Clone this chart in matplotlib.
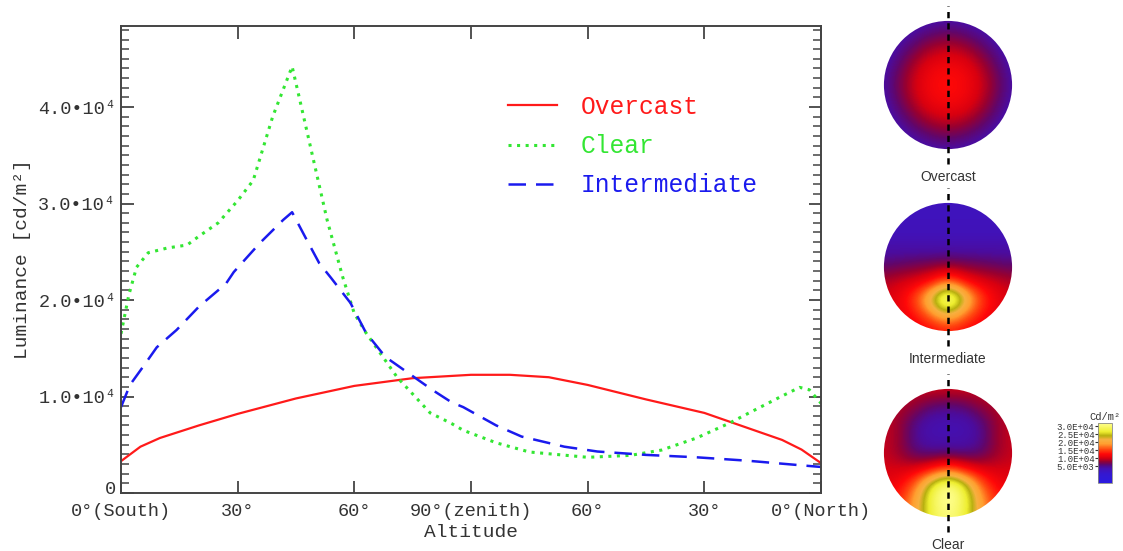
import numpy as np
import matplotlib
matplotlib.use('Agg')
import matplotlib.pyplot as plt
from matplotlib.colors import LinearSegmentedColormap, Normalize
from matplotlib.patches import Circle
from matplotlib.ticker import MultipleLocator
from matplotlib.transforms import ScaledTranslation
import matplotlib.cm as cm

# monospace font like the original plot program
plt.rcParams['font.family'] = ['Liberation Mono', 'DejaVu Sans Mono']

# meridian luminance, x: 0 = south horizon, 90 = zenith, 180 = north horizon
overcast_x = [0, 5, 10, 20, 30, 45, 60, 75, 90, 100, 110, 120, 135, 150, 160, 170, 175, 180]
overcast_y = [3300, 4800, 5700, 7000, 8200, 9800, 11100, 11900, 12250, 12250, 12000,
              11200, 9700, 8300, 6900, 5500, 4500, 3100]

clear_x = [0, 2, 4, 7, 12, 17, 20, 25, 30, 34, 39, 44, 46, 49.5, 53, 57, 60, 63, 71,
           79.5, 85, 88, 96.5, 105, 120, 131, 139, 148, 156.5, 161.5, 169.5, 174.5, 177, 180]
clear_y = [16500, 20500, 23400, 24900, 25400, 25700, 26600, 28000, 30300, 32400, 39000,
           44200, 40700, 34500, 28300, 22400, 18600, 16600, 12000, 8300, 7200, 6500, 5200,
           4250, 3700, 3900, 4450, 5700, 7250, 8300, 9950, 10950, 10700, 9300]

inter_x = [0, 2.3, 5.7, 9.2, 14.3, 20, 27, 29, 35.7, 41.7, 44, 47.8, 51, 54, 59, 63, 68,
           74, 80, 85, 88, 96.5, 103, 114, 122.5, 135, 148, 161, 174, 180]
inter_y = [8900, 11200, 13100, 15100, 16900, 19300, 21700, 22900, 25900, 28300, 29100,
           26200, 23800, 22300, 19700, 16600, 14100, 12400, 10700, 9400, 8900, 7000, 5850,
           4800, 4300, 3950, 3700, 3350, 2900, 2700]

tick_pos = [0, 30, 60, 90, 120, 150, 180]
tick_labels = ['0°(South)', '30°', '60°', '90°(zenith)', '60°', '30°', '0°(North)']
y_ticks = [0, 10000, 20000, 30000, 40000]
y_labels = ['0', '1.0•10⁴', '2.0•10⁴', '3.0•10⁴', '4.0•10⁴']

# sky maps seen from above (north up, south down), coarse grid in kcd/m2
overcast_map = [
    [2.5, 3.0, 3.5, 4.0, 3.5, 3.0, 2.5],
    [3.0, 4.5, 7.0, 8.5, 7.0, 4.5, 3.0],
    [3.5, 7.0, 11.0, 12.0, 11.0, 7.0, 3.5],
    [4.0, 8.5, 12.0, 13.0, 12.0, 8.5, 4.0],
    [3.5, 7.0, 11.0, 12.0, 11.0, 7.0, 3.5],
    [3.0, 4.5, 7.0, 8.5, 7.0, 4.5, 3.0],
    [2.5, 3.0, 3.5, 4.0, 3.5, 3.0, 2.5],
]
inter_map = [
    [2.5, 2.5, 2.5, 2.5, 2.5, 2.5, 2.5, 2.5, 2.5],
    [2.5, 2.5, 2.5, 2.5, 2.5, 2.5, 2.5, 2.5, 2.5],
    [3.0, 3.0, 3.0, 3.0, 3.0, 3.0, 3.0, 3.0, 3.0],
    [4.0, 4.0, 4.0, 4.0, 4.0, 4.0, 4.0, 4.0, 4.0],
    [6.0, 6.5, 7.0, 7.5, 8.0, 7.5, 7.0, 6.5, 6.0],
    [9.0, 10.0, 11.0, 13.0, 18.0, 13.0, 11.0, 10.0, 9.0],
    [10.0, 11.5, 15.5, 25.0, 36.0, 25.0, 15.5, 11.5, 10.0],
    [10.0, 11.0, 13.0, 17.0, 22.0, 17.0, 13.0, 11.0, 10.0],
    [9.0, 10.0, 11.0, 12.0, 13.0, 12.0, 11.0, 10.0, 9.0],
]
clear_map = [
    [9.0, 9.0, 9.5, 10.0, 10.0, 10.0, 9.5, 9.0, 9.0],
    [9.0, 9.0, 8.0, 6.0, 5.5, 6.0, 8.0, 9.0, 9.0],
    [9.5, 8.0, 5.0, 3.5, 3.5, 3.5, 5.0, 8.0, 9.5],
    [9.5, 8.0, 4.5, 3.5, 3.5, 3.5, 4.5, 8.0, 9.5],
    [9.5, 8.0, 5.5, 5.0, 5.0, 5.0, 5.5, 8.0, 9.5],
    [10.0, 10.0, 10.5, 12.5, 16.0, 12.5, 10.5, 10.0, 10.0],
    [11.0, 12.0, 17.0, 27.0, 33.0, 27.0, 17.0, 12.0, 11.0],
    [12.0, 14.0, 20.0, 29.0, 33.0, 29.0, 20.0, 14.0, 12.0],
    [12.0, 14.0, 20.0, 28.0, 31.0, 28.0, 20.0, 14.0, 12.0],
]
map_names = ['Overcast', 'Intermediate', 'Clear']

# colour scale of the sky maps
c_min, c_max = -5600, 31900
c_stops = [(-5600, '#2a1ae0'), (0, '#3418d0'), (3000, '#4212b8'), (4500, '#4c0c9c'),
           (6000, '#62066a'), (8000, '#980030'), (10000, '#d80010'), (12500, '#ff0808'),
           (15500, '#ff4a10'), (19000, '#ffa030'), (21500, '#f8b040'), (24000, '#b8b010'),
           (26500, '#eeee30'), (31900, '#ffff90')]
cb_ticks = [5000, 10000, 15000, 20000, 25000, 30000]

cmap = LinearSegmentedColormap.from_list(
    'sky', [((v - c_min) / (c_max - c_min), c) for v, c in c_stops])
norm = Normalize(c_min, c_max)

W, H = 1123, 551
fig = plt.figure(figsize=(W / 100, H / 100), dpi=100)
fig.patch.set_facecolor('white')

# ---- main graph ----
ax = fig.add_axes([121 / W, 1 - 493 / H, 700 / W, 467 / H])
red, green, blue = '#ff1a1a', '#33e633', '#1a1aee'
ax.plot(overcast_x, overcast_y, '-', color=red, lw=1.6, label='Overcast')
ax.plot(clear_x, clear_y, color=green, lw=2.2, ls=(0, (1, 1.8)), label='Clear')
ax.plot(inter_x, inter_y, color=blue, lw=1.8, ls=(0, (7, 4)), label='Intermediate')

ax.set_xlim(0, 180)
ax.set_ylim(0, 48400)
ax.set_xticks(tick_pos)
ax.set_xticklabels(tick_labels)
ax.set_yticks(y_ticks)
ax.set_yticklabels(y_labels)
ax.yaxis.set_minor_locator(MultipleLocator(1000))
ax.tick_params(which='both', direction='in', top=True, right=True, colors='#444444',
               labelcolor='#333333', labelsize=13.4)
ax.tick_params(which='major', length=9, width=1.3)
ax.tick_params(which='minor', length=6, width=1.1)
ax.tick_params(axis='x', pad=7)
ax.tick_params(axis='y', pad=3.5)
for s in ax.spines.values():
    s.set_color('#444444')
    s.set_linewidth(1.4)

# the "0" label sits a little above its tick in the original
zero_lab = ax.get_yticklabels()[0]
zero_lab.set_transform(zero_lab.get_transform() + ScaledTranslation(0, 4 / 72, fig.dpi_scale_trans))

ax.set_xlabel('Altitude', fontsize=14, color='#333333', labelpad=3)
ax.set_ylabel('Luminance [cd/m²]', fontsize=14, color='#333333', labelpad=5)

ax.legend(loc='upper left', bbox_to_anchor=(508 / W, 1 - 95 / H), bbox_transform=fig.transFigure,
          frameon=False, fontsize=17.7, handlelength=2.0, handletextpad=0.95,
          labelspacing=0.62, labelcolor='linecolor', borderpad=0, borderaxespad=0)

# ---- sky maps ----
centers = [85, 267, 453]
maps = [overcast_map, inter_map, clear_map]
for name, yc, grid in zip(map_names, centers, maps):
    dax = fig.add_axes([(948 - 66) / W, 1 - (yc + 66) / H, 132 / W, 132 / H])
    g = np.array(grid) * 1000
    n = g.shape[0]
    h = 1 + 1 / (n - 1)
    im = dax.imshow(g, cmap=cmap, norm=norm, interpolation='bicubic',
                    interpolation_stage='data', extent=[-h, h, -h, h], origin='upper')
    circ = Circle((0, 0), 1.0, transform=dax.transData)
    im.set_clip_path(circ)
    dax.set_xlim(-1.03, 1.03)
    dax.set_ylim(-1.03, 1.03)
    dax.axvline(0, ymin=-0.1, ymax=1.1, color='black', lw=1.8, ls=(0, (2.5, 2)), clip_on=False)
    dax.axis('off')
    fig.text(948 / W, 1 - (yc + 92) / H, name, ha='center', va='center', fontsize=10,
             color='#333333', family=['Liberation Sans', 'DejaVu Sans'])

# colour bar
cax = fig.add_axes([1098 / W, 1 - 483 / H, 14 / W, 60 / H])
sm = cm.ScalarMappable(norm=norm, cmap=cmap)
cb = fig.colorbar(sm, cax=cax, ticks=cb_ticks)
cb.ax.yaxis.set_ticks_position('left')
cb.ax.set_yticklabels(['{:.1E}'.format(t) for t in cb_ticks])
cb.ax.tick_params(labelsize=6.5, length=2, pad=0.5, colors='#333333')
cb.outline.set_edgecolor('#888888')
cb.outline.set_linewidth(0.6)
cb.ax.set_title('Cd/m²', fontsize=7.5, pad=2, color='#333333')

fig.savefig('out.png', dpi=100)
